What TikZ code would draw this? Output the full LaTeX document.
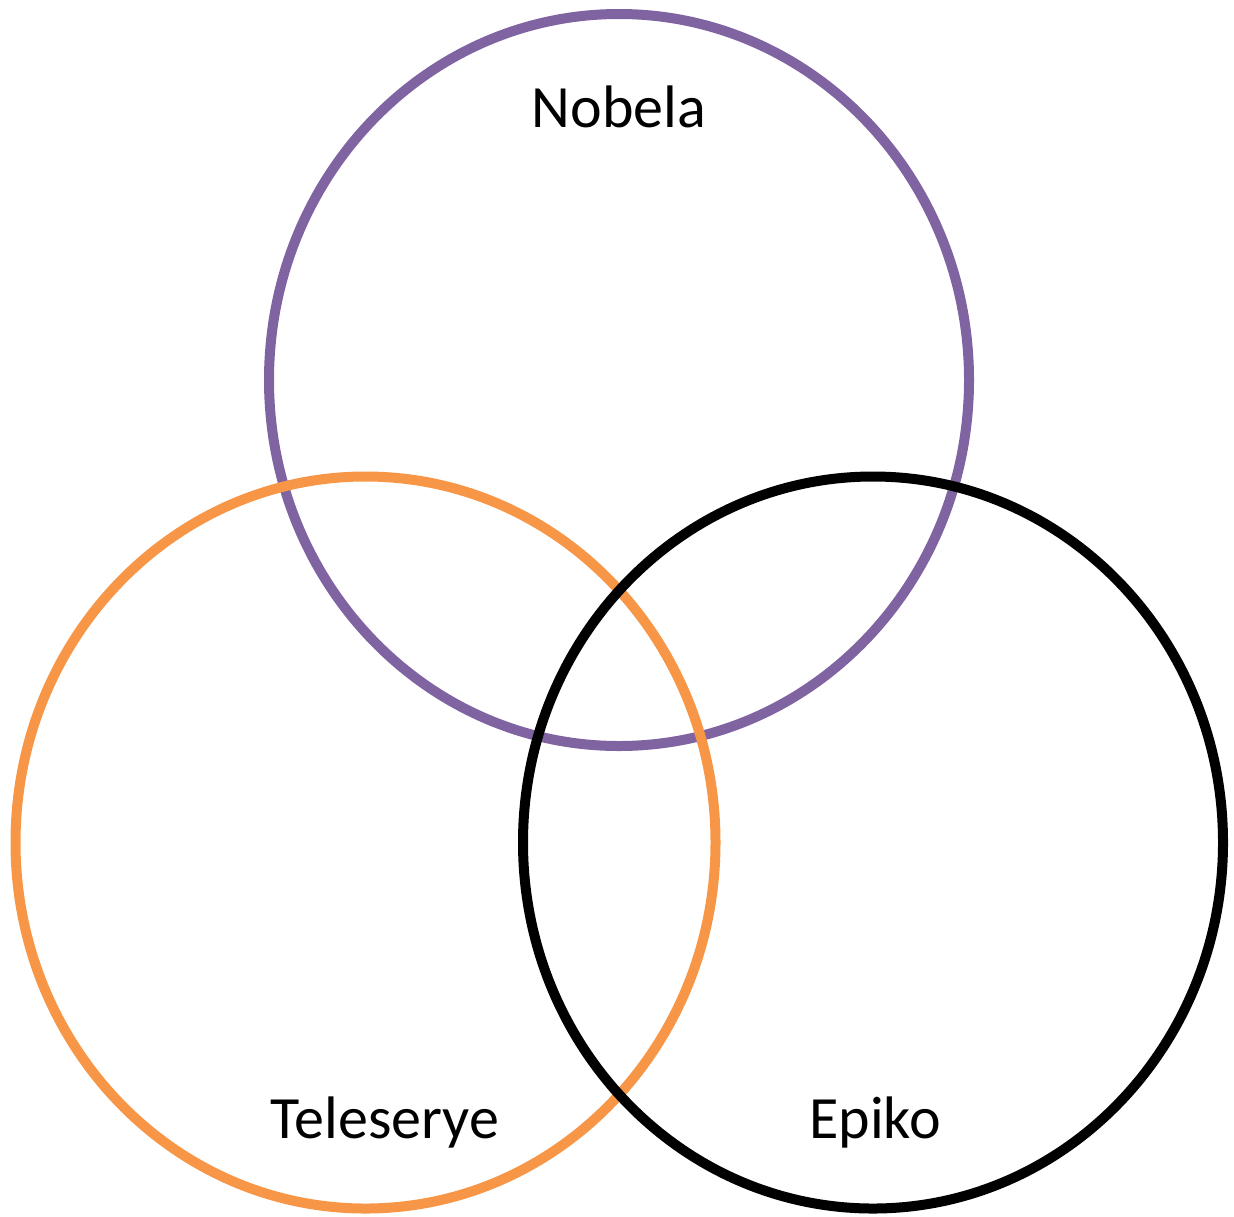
\documentclass[tikz,border=0pt]{standalone}
\usepackage{fontspec}
\setmainfont{Carlito}
\usepackage{tikz}
\usetikzlibrary{shapes.geometric}
\definecolor{vennNobela}{HTML}{8064A2}
\definecolor{vennTele}{HTML}{F79646}
\definecolor{vennEpiko}{HTML}{000000}
\tikzset{
  vennset/.style={ellipse,draw,line width=5pt,inner sep=0pt,
                  minimum width=350pt,minimum height=366pt},
  vennlbl/.style={font=\fontsize{30}{36}\selectfont,text=black,anchor=base,inner sep=0pt},
}
\begin{document}
\begin{tikzpicture}[x=0.5pt,y=-0.5pt]
  \useasboundingbox (0,0) rectangle (1234,1216);
  \node[vennset,draw=vennNobela] (nobela) at (619,380) {};
  \node[vennset,draw=vennTele]   (tele)   at (365.5,842.5) {};
  \node[vennset,draw=vennEpiko]  (epiko)  at (873,842.5) {};

  \node[vennlbl] (nobelaL) at (619,127)  {Nobela};
  \node[vennlbl] (teleL)   at (385,1138) {Teleserye};
  \node[vennlbl] (epikoL)  at (875,1138) {Epiko};
\end{tikzpicture}
\end{document}
